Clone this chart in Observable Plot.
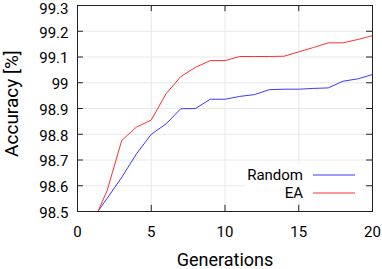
<!DOCTYPE html>
<html>
<head>
<meta charset="utf-8">
<script src="https://cdn.jsdelivr.net/npm/d3@7"></script>
<script src="https://cdn.jsdelivr.net/npm/@observablehq/plot@0.6"></script>
<style>
  html, body { margin: 0; padding: 0; background: white; }
</style>
</head>
<body>
<div id="chart"></div>
<script>
const generations = [1,2,3,4,5,6,7,8,9,10,11,12,13,14,15,16,17,18,19,20];
const randomAcc = [98.47,98.55,98.633,98.724,98.80,98.84,98.899,98.90,98.936,98.936,98.947,98.954,98.973,98.975,98.975,98.978,98.98,99.006,99.015,99.032];
const eaAcc = [98.45,98.58,98.776,98.828,98.855,98.957,99.024,99.06,99.086,99.086,99.102,99.102,99.102,99.103,99.12,99.137,99.155,99.155,99.168,99.183];
const seriesNames = ["Random", "EA"];
const seriesColors = ["#3a3aff", "#ff3030"];
const xTicks = [0,5,10,15,20];
const yTicks = [98.5,98.6,98.7,98.8,98.9,99,99.1,99.2,99.3];
const xLabel = "Generations";
const yLabel = "Accuracy [%]";

const rows = [];
generations.forEach((g, i) => {
  rows.push({gen: g, acc: randomAcc[i], series: seriesNames[0]});
  rows.push({gen: g, acc: eaAcc[i], series: seriesNames[1]});
});

const xDom = [0, 20], yDom = [98.5, 99.3];
const tx = 0.4, ty = 0.024; // inward tick lengths in data units
const gridColor = "#e8e8e8";
const frameColor = "#222";
const fmt = d => String(+d.toFixed(1));
const topTick = yTicks[yTicks.length - 1];

const plot = Plot.plot({
  width: 382,
  height: 269,
  marginLeft: 77,
  marginRight: 10,
  marginTop: 5,
  marginBottom: 58,
  style: {fontFamily: "Roboto", fontSize: "15px", background: "white", color: "black"},
  x: {domain: xDom},
  y: {domain: yDom},
  color: {domain: seriesNames, range: seriesColors},
  marks: [
    Plot.ruleX(xTicks, {stroke: gridColor}),
    Plot.ruleY(yTicks, {stroke: gridColor}),
    Plot.line(rows, {x: "gen", y: "acc", z: "series", stroke: "series", strokeWidth: 1, clip: true}),
    Plot.ruleX(xTicks, {y1: yDom[0], y2: yDom[0] + ty, stroke: frameColor}),
    Plot.ruleX(xTicks, {y1: yDom[1], y2: yDom[1] - ty, stroke: frameColor}),
    Plot.ruleY(yTicks, {x1: xDom[0], x2: xDom[0] + tx, stroke: frameColor}),
    Plot.ruleY(yTicks, {x1: xDom[1], x2: xDom[1] - tx, stroke: frameColor}),
    Plot.frame({stroke: frameColor}),
    Plot.axisX({ticks: xTicks, tickSize: 0, tickPadding: 15, label: null, fontSize: 15}),
    Plot.axisY({ticks: yTicks.filter(t => t !== topTick), tickSize: 0, tickPadding: 9, label: null, fontSize: 15, dy: 1.5,
                tickFormat: fmt}),
    Plot.axisY({ticks: [topTick], tickSize: 0, tickPadding: 9, label: null, fontSize: 15, dy: 3.5,
                tickFormat: fmt}),
    Plot.text([xLabel], {text: d => d, frameAnchor: "bottom", dy: 54, fontSize: 18}),
    Plot.text([yLabel], {text: d => d, frameAnchor: "left", textAnchor: "middle", rotate: -90, dx: -66, dy: -5, fontSize: 19})
  ]
});

// legend inside the plot area, with white background
const svg = d3.select(plot);
const lg = svg.append("g").attr("font-family", "Roboto").attr("font-size", 15);
lg.append("rect").attr("x", 245).attr("y", 164).attr("width", 117).attr("height", 38).attr("fill", "white");
seriesNames.forEach((name, i) => {
  const y = 175 + i * 18;
  lg.append("text").attr("x", 303).attr("y", y).attr("text-anchor", "end")
    .attr("dy", "0.35em").attr("fill", "black").text(name);
  lg.append("line").attr("x1", 313).attr("x2", 355).attr("y1", y).attr("y2", y)
    .attr("stroke", seriesColors[i]).attr("stroke-width", 1);
});

document.getElementById("chart").appendChild(plot);
</script>
</body>
</html>
